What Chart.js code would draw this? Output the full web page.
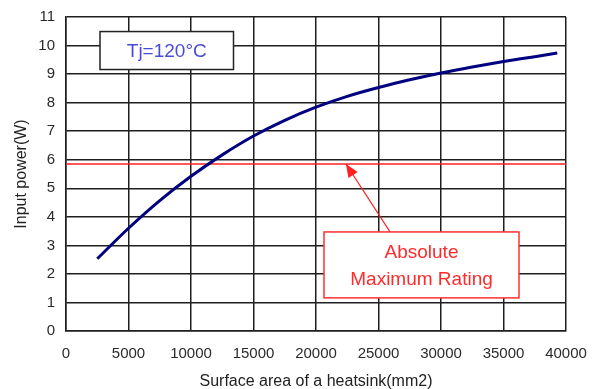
<!DOCTYPE html>
<html>
<head>
<meta charset="utf-8">
<script src="https://cdn.jsdelivr.net/npm/chart.js@4.4.1/dist/chart.umd.min.js"></script>
<style>
html,body{margin:0;padding:0;background:#fff;}
#wrap{position:relative;width:598px;height:389px;}
</style>
</head>
<body>
<div id="wrap"><canvas id="c" width="598" height="389"></canvas></div>
<script>
// Data
const areaX = [2500, 5000, 7500, 10000, 12500, 15000, 17500, 20000, 22500, 25000, 27500, 30000, 32500, 35000, 37500, 39300];
const powerY = [2.53, 3.6, 4.57, 5.42, 6.17, 6.83, 7.38, 7.84, 8.22, 8.53, 8.8, 9.04, 9.25, 9.44, 9.61, 9.74];
const ratingX = [0, 40000];
const ratingY = [5.85, 5.85];
const xTicks = [0, 5000, 10000, 15000, 20000, 25000, 30000, 35000, 40000];
const yTicks = [0, 1, 2, 3, 4, 5, 6, 7, 8, 9, 10, 11];
const tjLabel = 'Tj=120°C';
const ratingLabel = ['Absolute', 'Maximum Rating'];
const xTitle = 'Surface area of a heatsink(mm2)';
const yTitle = 'Input power(W)';
// annotation anchors in data units
const tjBox = {x0: 2720, x1: 13400, y0: 9.16, y1: 10.49};
const ratingBox = {x0: 20640, x1: 36240, y0: 1.16, y1: 3.47};
const arrowFrom = {x: 25920, y: 3.47};
const arrowTo = {x: 22400, y: 5.85};

const FONT = '"Liberation Sans", Arial, sans-serif';

const annot = {
  id: 'annot',
  afterDatasetsDraw(chart) {
    const {ctx, scales: {x, y}} = chart;
    ctx.save();
    // Tj box
    let bx0 = x.getPixelForValue(tjBox.x0), bx1 = x.getPixelForValue(tjBox.x1);
    let by0 = y.getPixelForValue(tjBox.y1), by1 = y.getPixelForValue(tjBox.y0);
    ctx.fillStyle = '#fff';
    ctx.fillRect(bx0, by0, bx1 - bx0, by1 - by0);
    ctx.strokeStyle = '#222';
    ctx.lineWidth = 1.5;
    ctx.strokeRect(bx0, by0, bx1 - bx0, by1 - by0);
    ctx.fillStyle = '#4a4ad8';
    ctx.font = '19px ' + FONT;
    ctx.textAlign = 'center';
    ctx.textBaseline = 'middle';
    ctx.fillText(tjLabel, (bx0 + bx1) / 2, (by0 + by1) / 2 + 1);

    // arrow
    const ax0 = x.getPixelForValue(arrowFrom.x), ay0 = y.getPixelForValue(arrowFrom.y);
    const ax1 = x.getPixelForValue(arrowTo.x), ay1 = y.getPixelForValue(arrowTo.y);
    ctx.strokeStyle = '#ff2020';
    ctx.fillStyle = '#ff2020';
    ctx.lineWidth = 1.2;
    ctx.beginPath();
    ctx.moveTo(ax0, ay0);
    ctx.lineTo(ax1, ay1);
    ctx.stroke();
    const ang = Math.atan2(ay1 - ay0, ax1 - ax0);
    const L = 13, W = 5.5;
    ctx.beginPath();
    ctx.moveTo(ax1, ay1);
    ctx.lineTo(ax1 - L * Math.cos(ang) + W * Math.sin(ang), ay1 - L * Math.sin(ang) - W * Math.cos(ang));
    ctx.lineTo(ax1 - L * Math.cos(ang) - W * Math.sin(ang), ay1 - L * Math.sin(ang) + W * Math.cos(ang));
    ctx.closePath();
    ctx.fill();

    // rating box
    bx0 = x.getPixelForValue(ratingBox.x0); bx1 = x.getPixelForValue(ratingBox.x1);
    by0 = y.getPixelForValue(ratingBox.y1); by1 = y.getPixelForValue(ratingBox.y0);
    ctx.fillStyle = '#fff';
    ctx.fillRect(bx0, by0, bx1 - bx0, by1 - by0);
    ctx.strokeStyle = '#ff3030';
    ctx.lineWidth = 1.5;
    ctx.strokeRect(bx0, by0, bx1 - bx0, by1 - by0);
    ctx.fillStyle = '#ff2a2a';
    ctx.font = '19px ' + FONT;
    const cy = (by0 + by1) / 2;
    ctx.fillText(ratingLabel[0], (bx0 + bx1) / 2, cy - 12);
    ctx.fillText(ratingLabel[1], (bx0 + bx1) / 2, cy + 15);
    ctx.restore();
  }
};

new Chart(document.getElementById('c'), {
  type: 'scatter',
  data: {
    datasets: [
      {
        data: ratingX.map((v, i) => ({x: v, y: ratingY[i]})),
        showLine: true,
        borderColor: '#ff2020',
        borderWidth: 1.5,
        pointRadius: 0,
        order: 2
      },
      {
        data: areaX.map((v, i) => ({x: v, y: powerY[i]})),
        showLine: true,
        borderColor: '#000080',
        borderWidth: 3,
        pointRadius: 0,
        cubicInterpolationMode: 'monotone',
        order: 1
      }
    ]
  },
  options: {
    responsive: false,
    animation: false,
    devicePixelRatio: 1,
    layout: {padding: {left: 0, right: 32, top: 17, bottom: -2}},
    plugins: {legend: {display: false}, tooltip: {enabled: false}},
    scales: {
      x: {
        type: 'linear',
        min: 0, max: 40000,
        afterBuildTicks(s) { s.ticks = xTicks.map(v => ({value: v})); },
        afterFit(s) { s.height = 391 - 331; s.paddingLeft = 0; s.paddingRight = 0; },
        ticks: {color: '#2a2a2a', font: {family: FONT, size: 15}, padding: 14, maxRotation: 0,
          callback: v => String(v)},
        grid: {color: '#1e1e1e', lineWidth: 1.5, drawTicks: false},
        border: {color: '#1e1e1e', width: 1.5},
        title: {display: true, text: xTitle, color: '#222', font: {family: FONT, size: 16}, padding: {top: 0, bottom: 0}}
      },
      y: {
        type: 'linear',
        min: 0, max: 11,
        afterBuildTicks(s) { s.ticks = yTicks.map(v => ({value: v})); },
        afterFit(s) { s.width = 66; s.paddingTop = 0; s.paddingBottom = 0; },
        ticks: {color: '#2a2a2a', font: {family: FONT, size: 15}, padding: 11},
        grid: {color: '#1e1e1e', lineWidth: 1.5, drawTicks: false},
        border: {color: '#1e1e1e', width: 1.5},
        title: {display: true, text: yTitle, color: '#222', font: {family: FONT, size: 16}, padding: {top: 12, bottom: 0}}
      }
    }
  },
  plugins: [annot]
});
</script>
</body>
</html>
